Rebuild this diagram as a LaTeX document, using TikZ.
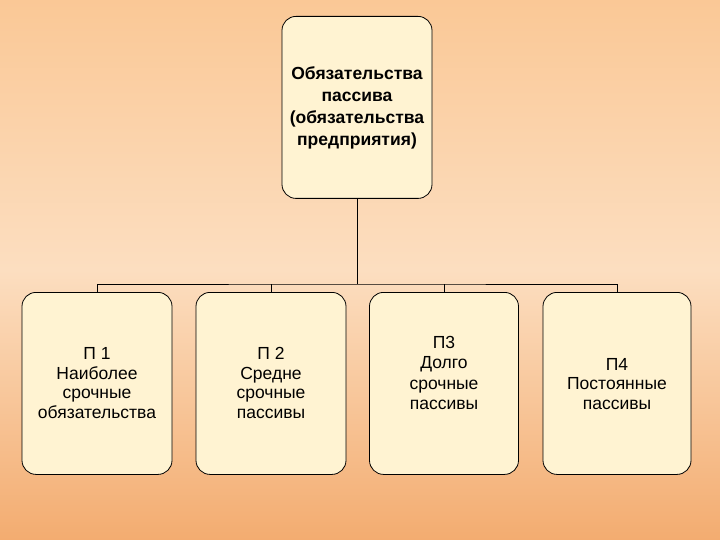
\documentclass[tikz,border=0pt]{standalone}
\usepackage{fontspec}
\setmainfont{Liberation Sans}
\definecolor{bgA}{RGB}{243,172,112}
\definecolor{bgB}{RGB}{250,200,150}
\definecolor{boxf}{RGB}{255,243,210}
\begin{document}
\begin{tikzpicture}[x=1pt,y=-1pt,
  bx/.style={draw=black,line width=0.8pt,fill=boxf,rounded corners=14pt,minimum width=150pt,minimum height=182pt,anchor=north,inner sep=0pt},
  tx/.style={align=center,font=\fontsize{17.5}{19.5}\selectfont}]
\shade[top color=bgB,bottom color=bgA,middle color=bgB!60!white] (0,0) rectangle (720,540);
\useasboundingbox (0,0) rectangle (720,540);
\node[bx] (top) at (357,16) {};
\node[tx,font=\bfseries\fontsize{17.5}{22}\selectfont] at (357,108) {Обязательства\\пассива\\(обязательства\\предприятия)};
\node[bx] (b1) at (97,292) {};
\node[bx,minimum width=150pt] (b2) at (271,292) {};
\node[bx,minimum width=149pt] (b3) at (444,292) {};
\node[bx,minimum width=148pt] (b4) at (617,292) {};
\node[tx] at (97,383) {П 1\\Наиболее\\срочные\\обязательства};
\node[tx] at (271,383) {П 2\\Средне\\срочные\\пассивы};
\node[tx,font=\fontsize{17.5}{20.5}\selectfont] at (444,373) {П3\\Долго\\срочные\\пассивы};
\node[tx] at (617,384) {П4\\Постоянные\\пассивы};
\coordinate (j) at (357,284);
\draw[line width=1pt] (top.south) -- (j);
\draw[line width=1pt] (b1.north) |- (j) -| (b4.north);
\draw[line width=1pt] (b2.north) -- (b2.north |- j);
\draw[line width=1pt] (b3.north) -- (b3.north |- j);
\end{tikzpicture}
\end{document}
